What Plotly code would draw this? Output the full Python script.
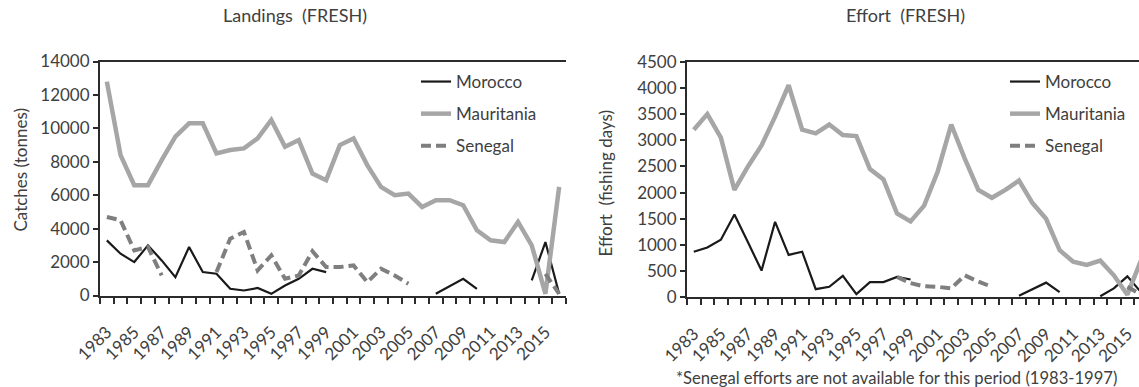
import plotly.graph_objects as go

# ---- data -------------------------------------------------------------
years = list(range(1983, 2017))
year_labels = [str(y) for y in range(1983, 2016, 2)]

# Landings (tonnes)
landings_morocco = [3300, 2500, 2000, 3000, 2100, 1100, 2900, 1400, 1300, 400,
                    300, 450, 100, 600, 1000, 1600, 1400,
                    None, None, None, None, None, None, None,
                    100, 550, 1000, 400,
                    None, None, None,
                    900, 3200, 100]
landings_mauritania = [12800, 8400, 6600, 6600, 8100, 9500, 10300, 10300, 8500, 8700,
                       8800, 9400, 10500, 8900, 9300, 7300, 6900, 9000, 9400, 7800,
                       6500, 6000, 6100, 5300, 5700, 5700, 5400, 3900, 3300, 3200,
                       4400, 3000, 100, 6500]
landings_senegal = [4700, 4500, 2700, 2900, 1200,
                    None, None, None,
                    1400, 3400, 3800, 1500, 2400, 1000, 1200, 2650, 1700, 1700,
                    1800, 800, 1600, 1200, 700,
                    None, None, None, None, None, None, None, None, None,
                    1300, 100]

# Effort (fishing days)
effort_morocco = [870, 950, 1100, 1580, 1050, 510, 1440, 810, 870, 155,
                  200, 410, 60, 290, 290, 390, 340,
                  None, None, None, None, None, None, None,
                  30, 150, 280, 100,
                  None, None,
                  20, 170, 400, 100]
effort_mauritania = [3200, 3500, 3050, 2050, 2500, 2900, 3450, 4050, 3200, 3130,
                     3300, 3100, 3080, 2450, 2250, 1600, 1450, 1750, 2400, 3300,
                     2650, 2050, 1900, 2050, 2230, 1800, 1500, 900, 680, 620,
                     700, 420, 50, 700]
effort_senegal = [None] * 15 + [390, 270, 210, 200, 170, 420, 300, 200] + \
                 [None] * 9 + [200, 50]

# ---- styling -----------------------------------------------------------
W, H = 1139, 387
FONT = "Lato"
TXT = "#404040"
AXC = "#2b2b2b"

def px(x):
    return x / W

def py(y):
    return 1 - y / H

series_style = {
    "Morocco": dict(color="#1a1a1a", width=2.2, dash="solid"),
    "Mauritania": dict(color="#a6a6a6", width=4.5, dash="solid"),
    "Senegal": dict(color="#7f7f7f", width=4, dash="10px,5px"),
}

fig = go.Figure()

panels = [
    ("x", "y", "legend", [("Morocco", landings_morocco),
                          ("Mauritania", landings_mauritania),
                          ("Senegal", landings_senegal)]),
    ("x2", "y2", "legend2", [("Morocco", effort_morocco),
                             ("Mauritania", effort_mauritania),
                             ("Senegal", effort_senegal)]),
]

for xa, ya, leg, series in panels:
    for name, vals in series:
        st = series_style[name]
        fig.add_trace(go.Scatter(
            x=years, y=vals, name=name, mode="lines",
            line=dict(color=st["color"], width=st["width"], dash=st["dash"]),
            connectgaps=False, xaxis=xa, yaxis=ya, legend=leg,
            legendgroup=f"{xa}-{name}", hoverinfo="skip",
        ))

boundaries = [y - 0.5 for y in range(1983, 2018)]

def x_axis(domain, rng, anchor):
    return dict(
        domain=domain, range=rng, anchor=anchor,
        tickmode="array", tickvals=list(range(1983, 2016, 2)), ticktext=year_labels,
        tickangle=-45, ticks="outside", ticklen=18, tickcolor="rgba(0,0,0,0)",
        ticklabeloverflow="allow",
        tickfont=dict(family=FONT, size=17, color=TXT),
        minor=dict(tickmode="array", tickvals=boundaries, ticks="outside",
                   ticklen=6, tickwidth=2, tickcolor=AXC),
        showline=True, linecolor=AXC, linewidth=2, mirror=True,
        showgrid=False, zeroline=False, automargin=False, fixedrange=True,
    )

def y_axis(domain, rng, dtick, anchor):
    return dict(
        domain=domain, range=rng, anchor=anchor,
        tickmode="linear", tick0=0, dtick=dtick, tickformat="d",
        ticks="outside", ticklen=5, tickwidth=2, tickcolor=AXC,
        tickfont=dict(family=FONT, size=17, color=TXT),
        showline=True, linecolor=AXC, linewidth=2,
        showgrid=False, zeroline=False, automargin=False, fixedrange=True,
    )

left_x = [px(100), px(566)]
right_x = [px(687), 1.0]
right_span = (W - 687) / 13.55

def legend_cfg(x0, y0):
    return dict(
        x=px(x0), y=py(y0), xanchor="left", yanchor="top",
        bgcolor="rgba(0,0,0,0)", borderwidth=0,
        font=dict(family=FONT, size=17, color=TXT),
        tracegroupgap=7, itemwidth=30,
    )

def note(text, x, y, size, angle=0):
    return dict(text=text, x=px(x), y=py(y), xref="paper", yref="paper",
                xanchor="center", yanchor="middle", showarrow=False,
                textangle=angle, font=dict(family=FONT, size=size, color=TXT))

fig.update_layout(
    width=W, height=H,
    margin=dict(l=0, r=0, t=0, b=0),
    paper_bgcolor="white", plot_bgcolor="white",
    showlegend=True,
    xaxis=x_axis(left_x, [1982.5, 2016.5], "y"),
    yaxis=y_axis([py(295.5), py(61.5)], [0, 14000], 2000, "x"),
    xaxis2=x_axis(right_x, [1982.5, 1982.5 + right_span], "y2"),
    yaxis2=y_axis([py(297.3), py(61.7)], [0, 4500], 500, "x2"),
    legend=legend_cfg(416, 64),
    legend2=legend_cfg(1005, 64),
    annotations=[
        note("Landings  (FRESH)", 295, 15, 18),
        note("Effort  (FRESH)", 905, 15, 18),
        note("Catches (tonnes)", 19.5, 170, 17, -90),
        note("Effort  (fishing days)", 605.5, 183, 17, -90),
        note("*Senegal efforts are not available for this period (1983-1997)", 896, 378, 16.6),
    ],
)

fig.write_html("out.html")
